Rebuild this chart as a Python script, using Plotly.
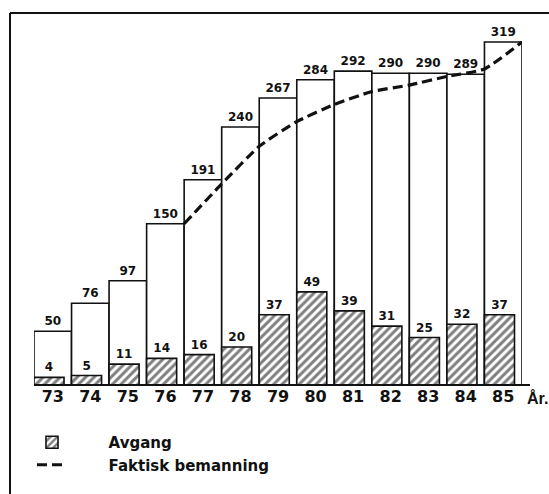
import plotly.graph_objects as go

# Year labels and numeric positions on the x axis
years = ["73", "74", "75", "76", "77", "78", "79", "80", "81", "82", "83", "84", "85"]
year_pos = [73, 74, 75, 76, 77, 78, 79, 80, 81, 82, 83, 84, 85]

# Planned staffing (open bars)
bemanning_plan = [50, 76, 97, 150, 191, 240, 267, 284, 292, 290, 290, 289, 319]

# Departures (hatched bars, own scale)
avgang = [4, 5, 11, 14, 16, 20, 37, 49, 39, 31, 25, 32, 37]

# Actual staffing, measured at each year end
faktisk_pos = [76.5, 77.5, 78.5, 79.5, 80.5, 81.5, 82.5, 83.5, 84.5, 85.5]
faktisk = [150, 187, 222, 245, 261, 273, 279, 287, 294, 319]

INK = "#111111"
FONT = "DejaVu Sans, Liberation Sans, Arial, sans-serif"
GAP = "\u00a0" * 7  # space between legend key and its label

# plot area in pixels
W, H = 549, 494
L, R, T, B = 34, 27, 13, 109
plot_w = W - L - R
plot_h = H - T - B


def px_x(px):
    return (px - L) / plot_w


def px_y(py):
    return (H - B - py) / plot_h


fig = go.Figure()

fig.add_trace(go.Bar(
    x=year_pos, y=bemanning_plan,
    width=1.0, offset=-0.5,
    marker=dict(color="white", line=dict(color=INK, width=1.6)),
    text=[str(v) for v in bemanning_plan],
    textposition="outside", constraintext="none", cliponaxis=False,
    textfont=dict(family=FONT, size=12, color=INK, weight="bold"),
    showlegend=False, hoverinfo="skip",
))

fig.add_trace(go.Bar(
    x=year_pos, y=avgang, yaxis="y2",
    width=0.8, offset=-0.5,
    name=GAP + "Avgang",
    marker=dict(color="white",
                line=dict(color=INK, width=1.6),
                pattern=dict(shape="/", size=6, solidity=0.5,
                             fgcolor="#000000", bgcolor="white")),
    text=[str(v) for v in avgang],
    textposition="outside", constraintext="none", cliponaxis=False,
    textfont=dict(family=FONT, size=12, color=INK, weight="bold"),
    hoverinfo="skip",
))

fig.add_trace(go.Scatter(
    x=faktisk_pos, y=faktisk, mode="lines",
    name=GAP + "Faktisk bemanning",
    line=dict(color=INK, width=3.2, dash="10px,5px", shape="spline", smoothing=0.5),
    hoverinfo="skip",
))

# frame: top and left rules
fig.add_shape(type="line", xref="paper", yref="paper",
              x0=px_x(10), x1=px_x(549), y0=px_y(13), y1=px_y(13),
              line=dict(color=INK, width=2))
fig.add_shape(type="line", xref="paper", yref="paper",
              x0=px_x(10), x1=px_x(10), y0=px_y(13), y1=px_y(500),
              line=dict(color=INK, width=2))
# base line
fig.add_shape(type="line", xref="paper", yref="paper",
              x0=px_x(34), x1=px_x(530), y0=0, y1=0,
              line=dict(color=INK, width=2))

fig.add_annotation(text="År.", xref="paper", yref="paper",
                   x=px_x(525), y=px_y(398), xanchor="left", yanchor="middle",
                   showarrow=False,
                   font=dict(family="Liberation Sans, Arial, sans-serif",
                             size=16, color=INK, weight="bold"))

y1_max = plot_h / 1.075
y2_max = plot_h / 1.9

fig.update_layout(
    width=W, height=H,
    margin=dict(l=L, r=R, t=T, b=B, autoexpand=False),
    paper_bgcolor="white", plot_bgcolor="white",
    barmode="overlay",
    xaxis=dict(range=[72.5, 85.5], tickvals=year_pos, ticktext=years,
               showgrid=False, zeroline=False, showline=False, ticks="",
               tickfont=dict(family=FONT, size=16, color=INK, weight="bold")),
    yaxis=dict(range=[0, y1_max], visible=False, showgrid=False, zeroline=False),
    yaxis2=dict(range=[0, y2_max], overlaying="y", visible=False,
                showgrid=False, zeroline=False),
    legend=dict(x=px_x(32), y=px_y(426), xanchor="left", yanchor="top",
                bgcolor="rgba(0,0,0,0)", itemwidth=30,
                font=dict(family=FONT, size=15, color=INK, weight="bold"),
                traceorder="normal"),
    font=dict(family=FONT, color=INK),
)

fig.write_html("out.html")
